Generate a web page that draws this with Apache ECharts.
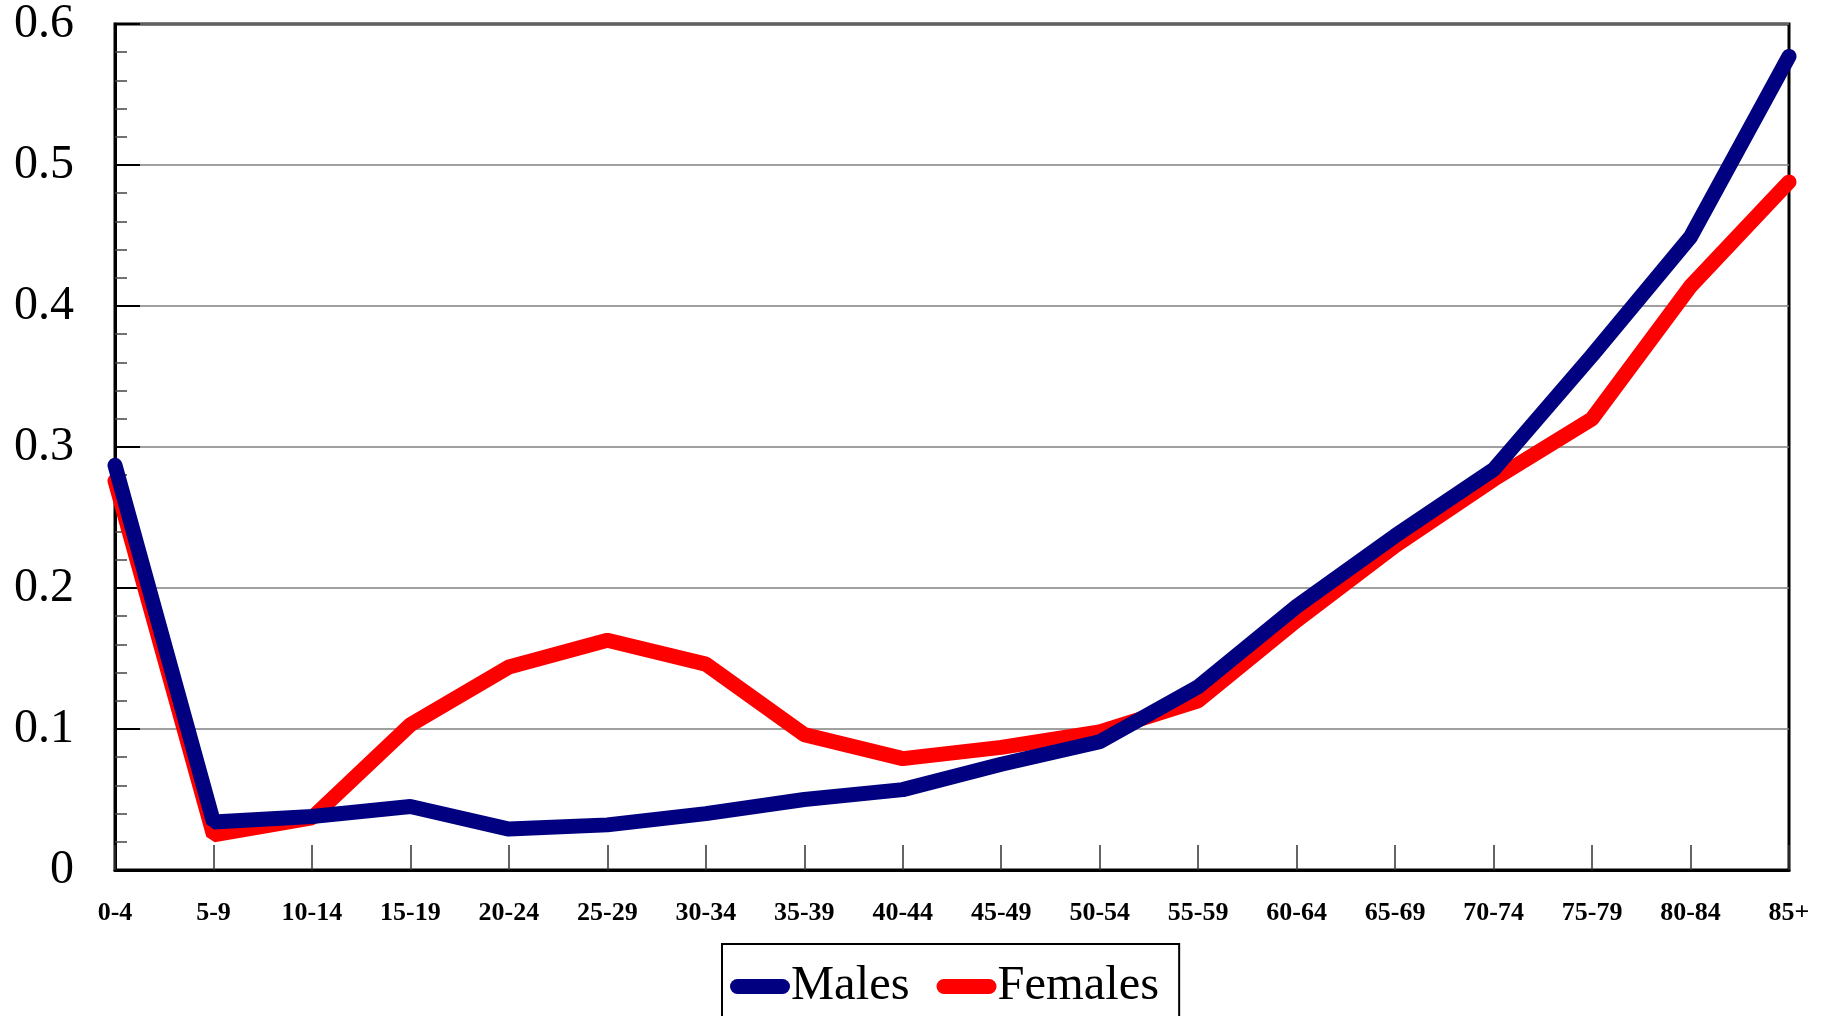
<!DOCTYPE html>
<html>
<head>
<meta charset="utf-8">
<script src="https://cdn.jsdelivr.net/npm/echarts@6/dist/echarts.min.js"></script>
<style>
html,body{margin:0;padding:0;background:#fff;}
#main{width:1827px;height:1016px;}
</style>
</head>
<body>
<div id="main"></div>
<script>
const categories = ['0-4','5-9','10-14','15-19','20-24','25-29','30-34','35-39','40-44','45-49','50-54','55-59','60-64','65-69','70-74','75-79','80-84','85+'];
const males   = [0.287,0.034,0.038,0.045,0.029,0.032,0.040,0.050,0.057,0.075,0.091,0.130,0.187,0.237,0.284,0.365,0.449,0.577];
const females = [0.276,0.025,0.037,0.103,0.144,0.163,0.146,0.096,0.079,0.087,0.098,0.120,0.177,0.230,0.277,0.320,0.414,0.488];
const yTicks = {min:0, max:0.6, interval:0.1};

const serif = '"Liberation Serif", "DejaVu Serif", serif';
const chart = echarts.init(document.getElementById('main'));
chart.setOption({
  backgroundColor:'#fff',
  animation:false,
  grid:{left:115, top:22, right:38, bottom:146, show:true, borderColor:'#000', borderWidth:3, backgroundColor:'transparent'},
  legend:{
    data:['Males','Females'],
    left:722, top:944,
    padding:[18,20,40,8],
    borderColor:'#000', borderWidth:2,
    itemWidth:60, itemHeight:15, itemGap:27,
    icon:'path://M7.5,0 L52.5,0 A7.5,7.5 0 0 1 52.5,15 L7.5,15 A7.5,7.5 0 0 1 7.5,0 Z',
    textStyle:{fontFamily:serif, fontSize:48.5, color:'#000', padding:[0,0,0,-4]}
  },
  xAxis:{
    type:'category', data:categories, boundaryGap:false,
    axisLine:{lineStyle:{color:'#000', width:3}},
    axisTick:{show:true, inside:true, length:25, lineStyle:{color:'#333', width:1.5}},
    axisLabel:{fontFamily:serif, fontWeight:'bold', fontSize:26, color:'#000', margin:30, interval:0},
    splitLine:{show:false}
  },
  yAxis:{
    type:'value', min:yTicks.min, max:yTicks.max, interval:yTicks.interval,
    axisLine:{show:true, lineStyle:{color:'#000', width:3}},
    axisTick:{show:true, inside:true, length:25, lineStyle:{color:'#000', width:2}},
    minorTick:{show:true, splitNumber:5, length:12, lineStyle:{color:'#444', width:1.5}},
    axisLabel:{fontFamily:serif, fontSize:48, color:'#000', margin:41},
    splitLine:{show:true, lineStyle:{color:'#808080', width:1.5}}
  },
  series:[
    {name:'Females', type:'line', data:females, showSymbol:false, symbol:'none', clip:false, z:2,
     color:'#ff0000', lineStyle:{color:'#ff0000', width:15, cap:'round'}},
    {name:'Males', type:'line', data:males, showSymbol:false, symbol:'none', clip:false, z:3,
     color:'#000080', lineStyle:{color:'#000080', width:15, cap:'round'}}
  ]
});
</script>
</body>
</html>
